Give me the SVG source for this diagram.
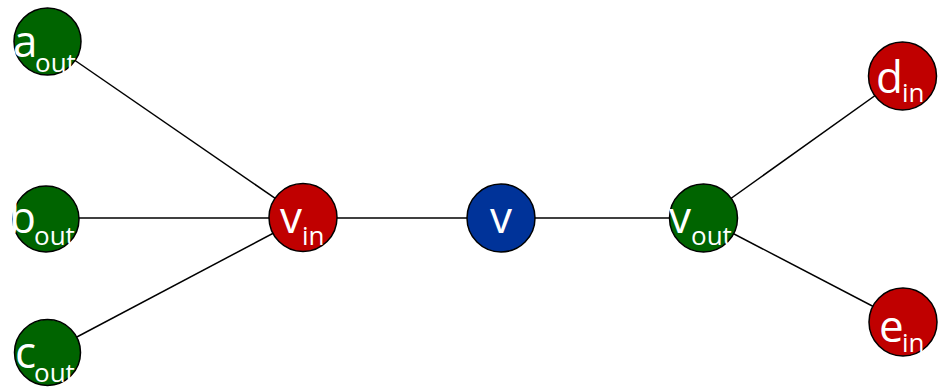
<svg xmlns="http://www.w3.org/2000/svg" width="945" height="387" viewBox="0 0 945 387">
<style>
.edge{stroke:#000;stroke-width:1.5;fill:none}
.n{stroke:#000;stroke-width:1.5}
.g{fill:#006400}
.r{fill:#c00000}
.b{fill:#003399}
.t{fill:#fff;font-family:"Open Sans","Liberation Sans",sans-serif;font-size:44px}
.s{font-size:26px}
</style>
<defs>
<clipPath id="ca"><rect x="0" y="0" width="81" height="90"/></clipPath>
<clipPath id="cb"><rect x="0" y="180" width="79" height="90"/></clipPath>
<clipPath id="cc"><rect x="0" y="310" width="81" height="77"/></clipPath>
<clipPath id="cvi"><rect x="260" y="170" width="77" height="90"/></clipPath>
<clipPath id="cvo"><rect x="660" y="170" width="77" height="90"/></clipPath>
<clipPath id="cd"><rect x="860" y="30" width="77" height="90"/></clipPath>
<clipPath id="ce"><rect x="860" y="280" width="77" height="90"/></clipPath>
</defs>
<g id="edges">
<line class="edge" x1="47.5" y1="41.5" x2="303" y2="217.5"/>
<line class="edge" x1="46" y1="218" x2="303" y2="218"/>
<line class="edge" x1="47.5" y1="352.5" x2="303" y2="217.5"/>
<line class="edge" x1="303" y1="218" x2="501" y2="218"/>
<line class="edge" x1="501" y1="218" x2="703.5" y2="218"/>
<line class="edge" x1="703.5" y1="218" x2="902.5" y2="76"/>
<line class="edge" x1="703.5" y1="218" x2="903" y2="322"/>
</g>
<g id="a_out">
<circle class="n g" cx="47.5" cy="41.5" r="33.5"/>
<text class="t" clip-path="url(#ca)"><tspan x="13" y="57">a</tspan><tspan class="s" x="35" y="72">out</tspan></text>
</g>
<g id="b_out">
<circle class="n g" cx="46" cy="219" r="33"/>
<text class="t" clip-path="url(#cb)"><tspan x="9" y="233">b</tspan><tspan class="s" x="34" y="245">out</tspan></text>
</g>
<g id="c_out">
<circle class="n g" cx="47.5" cy="352.5" r="33"/>
<text class="t" clip-path="url(#cc)"><tspan x="15" y="368">c</tspan><tspan class="s" x="34" y="382">out</tspan></text>
</g>
<g id="v_in">
<circle class="n r" cx="303" cy="217.5" r="34"/>
<text class="t" clip-path="url(#cvi)"><tspan x="280" y="233">v</tspan><tspan class="s" x="302" y="245">in</tspan></text>
</g>
<g id="v">
<circle class="n b" cx="501" cy="218" r="34"/>
<text class="t" x="501" y="233" text-anchor="middle">v</text>
</g>
<g id="v_out">
<circle class="n g" cx="703.5" cy="218" r="34"/>
<text class="t" clip-path="url(#cvo)"><tspan x="669" y="233">v</tspan><tspan class="s" x="691" y="245">out</tspan></text>
</g>
<g id="d_in">
<circle class="n r" cx="902.5" cy="76" r="34"/>
<text class="t" clip-path="url(#cd)"><tspan x="876" y="93">d</tspan><tspan class="s" x="902" y="102">in</tspan></text>
</g>
<g id="e_in">
<circle class="n r" cx="903" cy="322" r="34"/>
<text class="t" clip-path="url(#ce)"><tspan x="879" y="342">e</tspan><tspan class="s" x="902" y="352">in</tspan></text>
</g>
</svg>
